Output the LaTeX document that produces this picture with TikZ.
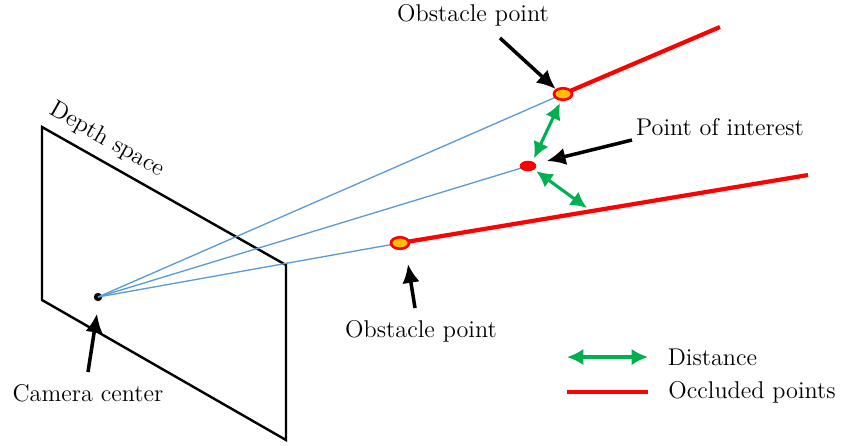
\documentclass[tikz,border=0pt]{standalone}
\usepackage{tikz}
\usetikzlibrary{arrows.meta, positioning, calc, shapes.geometric}
\definecolor{RayBlue}{HTML}{5B9BD5}
\definecolor{DistGreen}{HTML}{00B050}
\definecolor{OccRed}{HTML}{FF0000}
\definecolor{PtYellow}{HTML}{FFC000}

\begin{document}
\begin{tikzpicture}[x=0.4545pt, y=-0.4545pt, every node/.style={font=\fontsize{11pt}{13pt}\selectfont},
    ray/.style={draw=RayBlue, line width=0.6pt},
    occluded/.style={draw=OccRed, line width=1.9pt},
    dist/.style={{Latex[length=2.6mm,width=2.6mm]}-{Latex[length=2.6mm,width=2.6mm]}, draw=DistGreen, line width=1.4pt},
    pointer/.style={-{Latex[length=3mm,width=2.8mm]}, line width=1.6pt},
    obstacle/.style={ellipse, draw=OccRed, fill=PtYellow, line width=1.2pt, minimum width=8.2pt, minimum height=5.2pt, inner sep=0pt}]
    \useasboundingbox (0,0) rectangle (841,445);

    % Depth space plane
    \draw[line width=1.1pt] (42,127) -- (286,265) -- (286,440) -- (42,300) -- cycle;
    \node[rotate=-29.5] (depth) at (107,140) {Depth space};

    \node[circle, fill=black, minimum size=3.8pt, inner sep=0pt] (cam) at (98,297) {};
    \coordinate (obsA) at (563,94);
    \coordinate (poi) at (528,166);
    \coordinate (obsB) at (400,243);

    % Rays
    \draw[ray] (cam.center) -- (obsA);
    \draw[ray] (cam.center) -- (poi);
    \draw[ray] (cam.center) -- (obsB);

    % Occluded points
    \coordinate (endA) at (720,27);
    \coordinate (endB) at (808,175);
    \draw[occluded] (obsA) -- (endA);
    \draw[occluded] (obsB) -- (endB);

    \node[obstacle] (obsAn) at (obsA) {};
    \node[obstacle] (obsBn) at (obsB) {};
    \node[ellipse, fill=OccRed, minimum width=7.6pt, minimum height=4.8pt, inner sep=0pt] (poin) at (poi) {};

    % Distances
    \coordinate (footB) at (587,208);
    \draw[dist] ($(poin.north)+(6,-2)$) -- ($(obsAn.south)+(-3,2)$);
    \draw[dist] ($(poin.south east)+(2,1)$) -- (footB);

    % Labels
    \node (lblA) at (473,15) {Obstacle point};
    \node (lblP) at (720,127) {Point of interest};
    \node (lblB) at (421,331) {Obstacle point};
    \node (lblC) at (88,393) {Camera center};

    % Arrows
    \draw[pointer] (500,38) -- (obsAn.north west);
    \draw[pointer] (632,140) -- ($(poin.east)+(10,-5)$);
    \draw[pointer] (415,308) -- ($(obsBn.south)+(8,14)$);
    \draw[pointer] (88,372) -- ($(cam.south)+(-1,12)$);

    % Legend
    \coordinate (legA) at (567,357);
    \coordinate (legB) at (567,392);
    \draw[dist] (legA) -- ++(81,0) node[right=5pt, black] (legDist) {Distance};
    \draw[occluded] (legB) -- ++(81,0) node[right=5pt, black] (legOcc) {Occluded points};
\end{tikzpicture}
\end{document}
